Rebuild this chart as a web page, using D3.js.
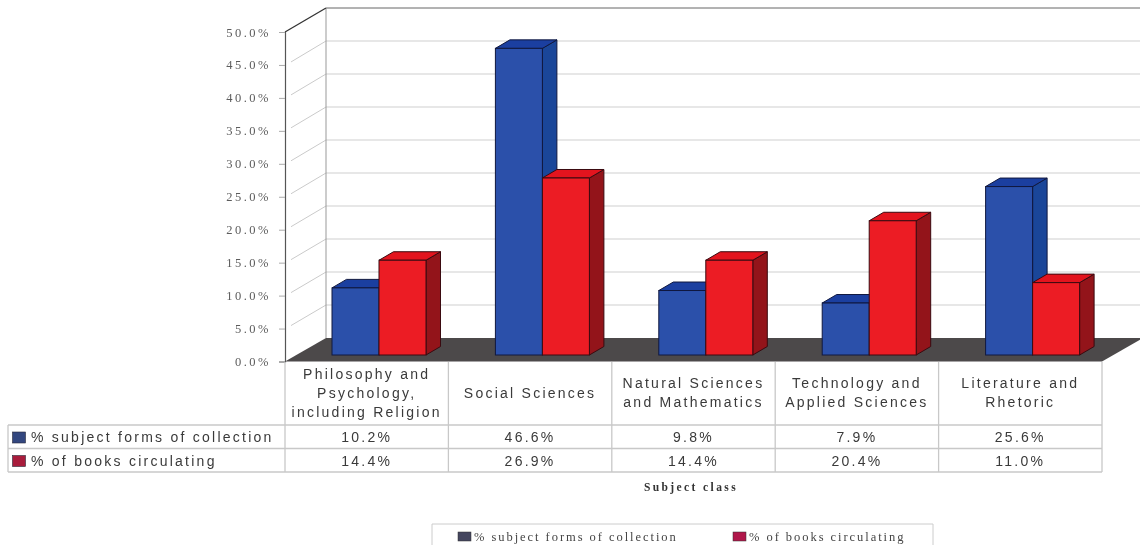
<!DOCTYPE html>
<html><head><meta charset="utf-8">
<script src="https://cdnjs.cloudflare.com/ajax/libs/d3/7.8.5/d3.min.js"></script>
<style>html,body{margin:0;padding:0;background:#fff}svg{display:block;filter:blur(0.45px)}</style>
</head><body><svg id="c" width="1140" height="545"></svg>
<script>
const categories = ["Philosophy and Psychology, including Religion","Social Sciences","Natural Sciences and Mathematics","Technology and Applied Sciences","Literature and Rhetoric"];
const categoryLines = [["Philosophy and","Psychology,","including Religion"],["Social Sciences"],["Natural Sciences","and Mathematics"],["Technology and","Applied Sciences"],["Literature and","Rhetoric"]];
const seriesNames = ["% subject forms of collection","% of books circulating"];
const collection = [10.2,46.6,9.8,7.9,25.6];
const circulating = [14.4,26.9,14.4,20.4,11.0];
const yTicks = [0,5,10,15,20,25,30,35,40,45,50];
const axisTitle = "Subject class";

const svg = d3.select("#c");
const SANS = "'Liberation Sans',Arial,sans-serif", SERIF = "'Liberation Serif','Times New Roman',serif";
const series = [
 {name:seriesNames[0],values:collection,front:"#2b50aa",side:"#1a4699",top:"#1b3fa0",stroke:"#10183f",key:"#33477f"},
 {name:seriesNames[1],values:circulating,front:"#ec1c24",side:"#93141a",top:"#e3141e",stroke:"#3a0a10",key:"#a81c3c"}
];
const x = d3.scaleBand().domain(categories).range([285,1102]);
const xInner = d3.scaleBand().domain(seriesNames).range([47,141]);
const yFront = d3.scaleLinear().domain([0,50]).range([361.5,32]);
const yWall = d3.scaleLinear().domain([0,50]).range([338,8]);
const yBar = d3.scaleLinear().domain([0,50]).range([355,26]);
const dxBar = 14.5, dyBar = 8.5;

// wall grid
const grid = svg.append("g");
grid.selectAll("line.h").data(yTicks.slice(1,-1)).join("line").attr("class","h")
 .attr("x1",326).attr("x2",1140).attr("y1",yWall).attr("y2",yWall).attr("stroke","#d0d0d0").attr("stroke-width",1.2);
grid.selectAll("line.d").data(yTicks.slice(1,-1)).join("line").attr("class","d")
 .attr("x1",291).attr("x2",326).attr("y1",d=>yFront(d)-3).attr("y2",yWall).attr("stroke","#cacaca").attr("stroke-width",1);
grid.append("line").attr("x1",326).attr("x2",1140).attr("y1",yWall(50)).attr("y2",yWall(50)).attr("stroke","#666").attr("stroke-width",1);
grid.append("line").attr("x1",326).attr("x2",326).attr("y1",yWall(50)).attr("y2",yWall(0)).attr("stroke","#999");
grid.append("line").attr("x1",285).attr("x2",326).attr("y1",yFront(50)).attr("y2",yWall(50)).attr("stroke","#333").attr("stroke-width",1.3);

// floor
svg.append("polygon").attr("points",[[285,yFront(0)],[326,yWall(0)],[1143,yWall(0)],[1102,yFront(0)]].join(" ")).attr("fill","#4c494a");

// front axis
const axis = d3.axisLeft(yFront).tickValues(yTicks).tickFormat(d=>d.toFixed(1)+"%").tickSize(6).tickPadding(8);
const ag = svg.append("g").attr("transform","translate(285,0)").call(axis);
ag.select(".domain").attr("stroke","#555").attr("stroke-width",1.2);
ag.selectAll(".tick line").attr("stroke","#aaa");
ag.selectAll("text").attr("font-family",SERIF).attr("font-size",12.5).attr("letter-spacing",2.5).attr("fill","#5c5c5c");

// bars
const groups = svg.append("g").selectAll("g").data(categories).join("g").attr("transform",d=>`translate(${x(d)},0)`);
series.forEach(s=>{
 const w = xInner.bandwidth(), x0 = xInner(s.name);
 const g = groups.append("g").datum((d,i)=>s.values[i]);
 g.append("polygon").attr("fill",s.side).attr("stroke",s.stroke).attr("stroke-width",1)
  .attr("points",v=>[[x0+w,yBar(v)],[x0+w+dxBar,yBar(v)-dyBar],[x0+w+dxBar,yBar(0)-dyBar],[x0+w,yBar(0)]].join(" "));
 g.append("polygon").attr("fill",s.top).attr("stroke",s.stroke).attr("stroke-width",1)
  .attr("points",v=>[[x0,yBar(v)],[x0+dxBar,yBar(v)-dyBar],[x0+w+dxBar,yBar(v)-dyBar],[x0+w,yBar(v)]].join(" "));
 g.append("rect").attr("fill",s.front).attr("stroke",s.stroke).attr("stroke-width",1)
  .attr("x",x0).attr("width",w).attr("y",v=>yBar(v)).attr("height",v=>yBar(0)-yBar(v));
});

// data table
const rows = [362,425,448.5,472];
const rowMid = [437.5,461];
const table = svg.append("g").attr("stroke","#c8c8c8").attr("stroke-width",1.3);
const edges = categories.map(c=>x(c)).concat([x.range()[1]]);
table.selectAll("line.v").data(edges).join("line").attr("x1",d=>d).attr("x2",d=>d).attr("y1",rows[0]).attr("y2",rows[3]);
table.selectAll("line.r").data(rows.slice(1)).join("line").attr("x1",8).attr("x2",x.range()[1]).attr("y1",d=>d).attr("y2",d=>d);
table.append("line").attr("x1",8).attr("x2",8).attr("y1",rows[1]).attr("y2",rows[3]);

const tt = svg.append("g").attr("font-family",SANS).attr("fill","#3a3a3a").attr("font-size",14).attr("letter-spacing",2.25);
categories.forEach((c,i)=>{
 const ls = categoryLines[i], cx = x(c)+x.bandwidth()/2;
 const start = ls.length===3?374:ls.length===2?383:393;
 ls.forEach((t,k)=>tt.append("text").attr("x",cx).attr("y",start+k*19).attr("dy","0.35em").attr("text-anchor","middle").text(t));
 series.forEach((s,j)=>tt.append("text").attr("x",cx).attr("y",rowMid[j]).attr("dy","0.35em").attr("text-anchor","middle").text(s.values[i].toFixed(1)+"%"));
});
series.forEach((s,j)=>{
 svg.append("rect").attr("x",12.5).attr("y",rowMid[j]-5.5).attr("width",13).attr("height",11).attr("fill",s.key).attr("stroke","#2a2a3a").attr("stroke-width",.6);
 tt.append("text").attr("x",31).attr("y",rowMid[j]).attr("dy","0.35em").text(s.name);
});

// axis title
svg.append("text").attr("x",691).attr("y",487).attr("dy","0.35em").attr("text-anchor","middle")
 .attr("font-family",SERIF).attr("font-weight","bold").attr("font-size",11.5).attr("letter-spacing",2.4).attr("fill","#333").text(axisTitle);

// legend
const leg = svg.append("g");
leg.append("path").attr("d","M432,545V524H933V545").attr("fill","none").attr("stroke","#ccc");
const legX = d3.scaleOrdinal().domain(seriesNames).range([458,733]);
const legKey = d3.scaleOrdinal().domain(seriesNames).range(["#44465f","#b0174a"]);
seriesNames.forEach(n=>{
 leg.append("rect").attr("x",legX(n)).attr("y",532).attr("width",13).attr("height",9).attr("fill",legKey(n)).attr("stroke","#333").attr("stroke-width",.5);
 leg.append("text").attr("x",legX(n)+16).attr("y",536.5).attr("dy","0.35em").attr("font-family",SERIF).attr("font-size",12.5).attr("letter-spacing",1.95).attr("fill","#444").text(n);
});
</script></body></html>
